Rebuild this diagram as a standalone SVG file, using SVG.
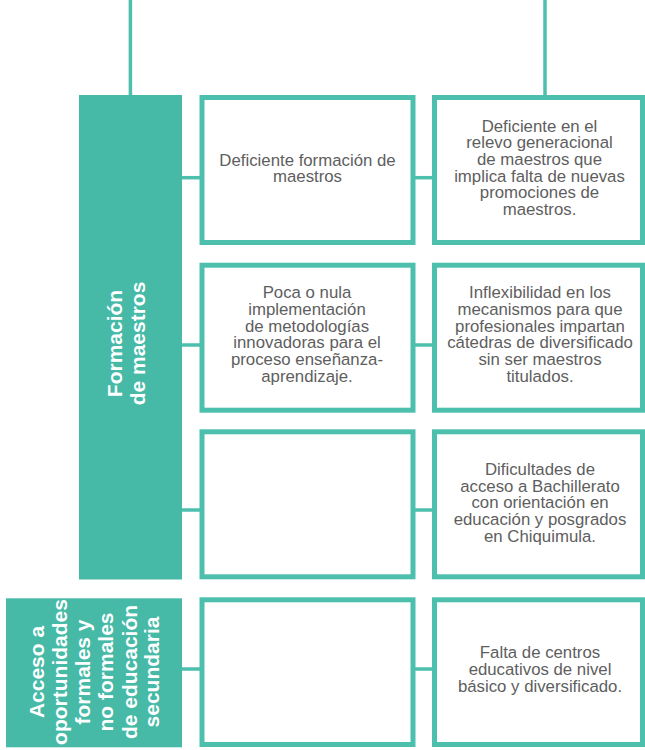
<svg xmlns="http://www.w3.org/2000/svg" width="645" height="750" viewBox="0 0 645 750">
<style>
.cat{fill:#46b9a7}
.box{fill:#ffffff;stroke:#4cbfad;stroke-width:5}
.ln{stroke:#4cbfad;stroke-width:3.5;fill:none}
.t{font-family:"Liberation Sans",Arial,sans-serif;font-size:16.8px;fill:#5e5e5e;text-anchor:middle}
.h{font-family:"Liberation Sans",Arial,sans-serif;font-size:21px;font-weight:bold;fill:#ffffff;text-anchor:middle}
</style>
<rect width="645" height="750" fill="#ffffff"/>
<g id="connectors">
<line class="ln" x1="130.4" y1="0" x2="130.4" y2="95"/>
<line class="ln" x1="545" y1="0" x2="545" y2="95"/>
<line class="ln" x1="182" y1="177.7" x2="200" y2="177.7"/>
<line class="ln" x1="415" y1="177.7" x2="433" y2="177.7"/>
<line class="ln" x1="182" y1="345" x2="200" y2="345"/>
<line class="ln" x1="415" y1="345" x2="433" y2="345"/>
<line class="ln" x1="182" y1="510" x2="200" y2="510"/>
<line class="ln" x1="415" y1="510" x2="433" y2="510"/>
<line class="ln" x1="182" y1="669" x2="200" y2="669"/>
<line class="ln" x1="415" y1="669" x2="433" y2="669"/>
</g>
<g id="cat-formacion">
<rect class="cat" x="79" y="95" width="103" height="484.5"/>
<text class="h" transform="translate(0,343.5) rotate(-90)"><tspan x="0" y="121.7">Formación</tspan><tspan x="0" y="145">de maestros</tspan></text>
</g>
<g id="cat-acceso">
<rect class="cat" x="6" y="598.3" width="176" height="149"/>
<text class="h" transform="translate(0,672) rotate(-90)"><tspan x="0" y="44.3">Acceso a</tspan><tspan x="0" y="67.3">oportunidades</tspan><tspan x="0" y="90.3">formales y</tspan><tspan x="0" y="113.3">no formales</tspan><tspan x="0" y="136.7">de educación</tspan><tspan x="0" y="159.3">secundaria</tspan></text>
</g>
<g id="n1">
<rect class="box" x="202" y="97.5" width="211" height="145"/>
<text class="t"><tspan x="307.5" y="165.8">Deficiente formación de</tspan><tspan x="307.5" y="181.9">maestros</tspan></text>
</g>
<g id="n2">
<rect class="box" x="434.5" y="97.5" width="208" height="145"/>
<text class="t"><tspan x="539.5" y="131.7">Deficiente en el</tspan><tspan x="539.5" y="148.3">relevo generacional</tspan><tspan x="539.5" y="164.9">de maestros que</tspan><tspan x="539.5" y="181.5">implica falta de nuevas</tspan><tspan x="539.5" y="198.1">promociones de</tspan><tspan x="539.5" y="214.7">maestros.</tspan></text>
</g>
<g id="n3">
<rect class="box" x="202" y="265.2" width="211" height="145"/>
<text class="t"><tspan x="307" y="298.3">Poca o nula</tspan><tspan x="307" y="315">implementación</tspan><tspan x="307" y="331.7">de metodologías</tspan><tspan x="307" y="348.4">innovadoras para el</tspan><tspan x="307" y="365.1">proceso enseñanza-</tspan><tspan x="307" y="381.8">aprendizaje.</tspan></text>
</g>
<g id="n4">
<rect class="box" x="434.5" y="265.2" width="208" height="145"/>
<text class="t"><tspan x="540" y="298.3">Inflexibilidad en los</tspan><tspan x="540" y="315">mecanismos para que</tspan><tspan x="540" y="331.7">profesionales impartan</tspan><tspan x="540" y="348.4">cátedras de diversificado</tspan><tspan x="540" y="365.1">sin ser maestros</tspan><tspan x="540" y="381.8">titulados.</tspan></text>
</g>
<g id="n5">
<rect class="box" x="202" y="431.8" width="211" height="145"/>
</g>
<g id="n6">
<rect class="box" x="434.5" y="431.8" width="208" height="145"/>
<text class="t"><tspan x="540" y="475">Dificultades de</tspan><tspan x="540" y="491.7">acceso a Bachillerato</tspan><tspan x="540" y="508.4">con orientación en</tspan><tspan x="540" y="525.1">educación y posgrados</tspan><tspan x="540" y="541.8">en Chiquimula.</tspan></text>
</g>
<g id="n7">
<rect class="box" x="202" y="599.8" width="211" height="144.7"/>
</g>
<g id="n8">
<rect class="box" x="434.5" y="599.8" width="208" height="144.7"/>
<text class="t"><tspan x="540" y="658.2">Falta de centros</tspan><tspan x="540" y="675">educativos de nivel</tspan><tspan x="540" y="691.8">básico y diversificado.</tspan></text>
</g>
</svg>
